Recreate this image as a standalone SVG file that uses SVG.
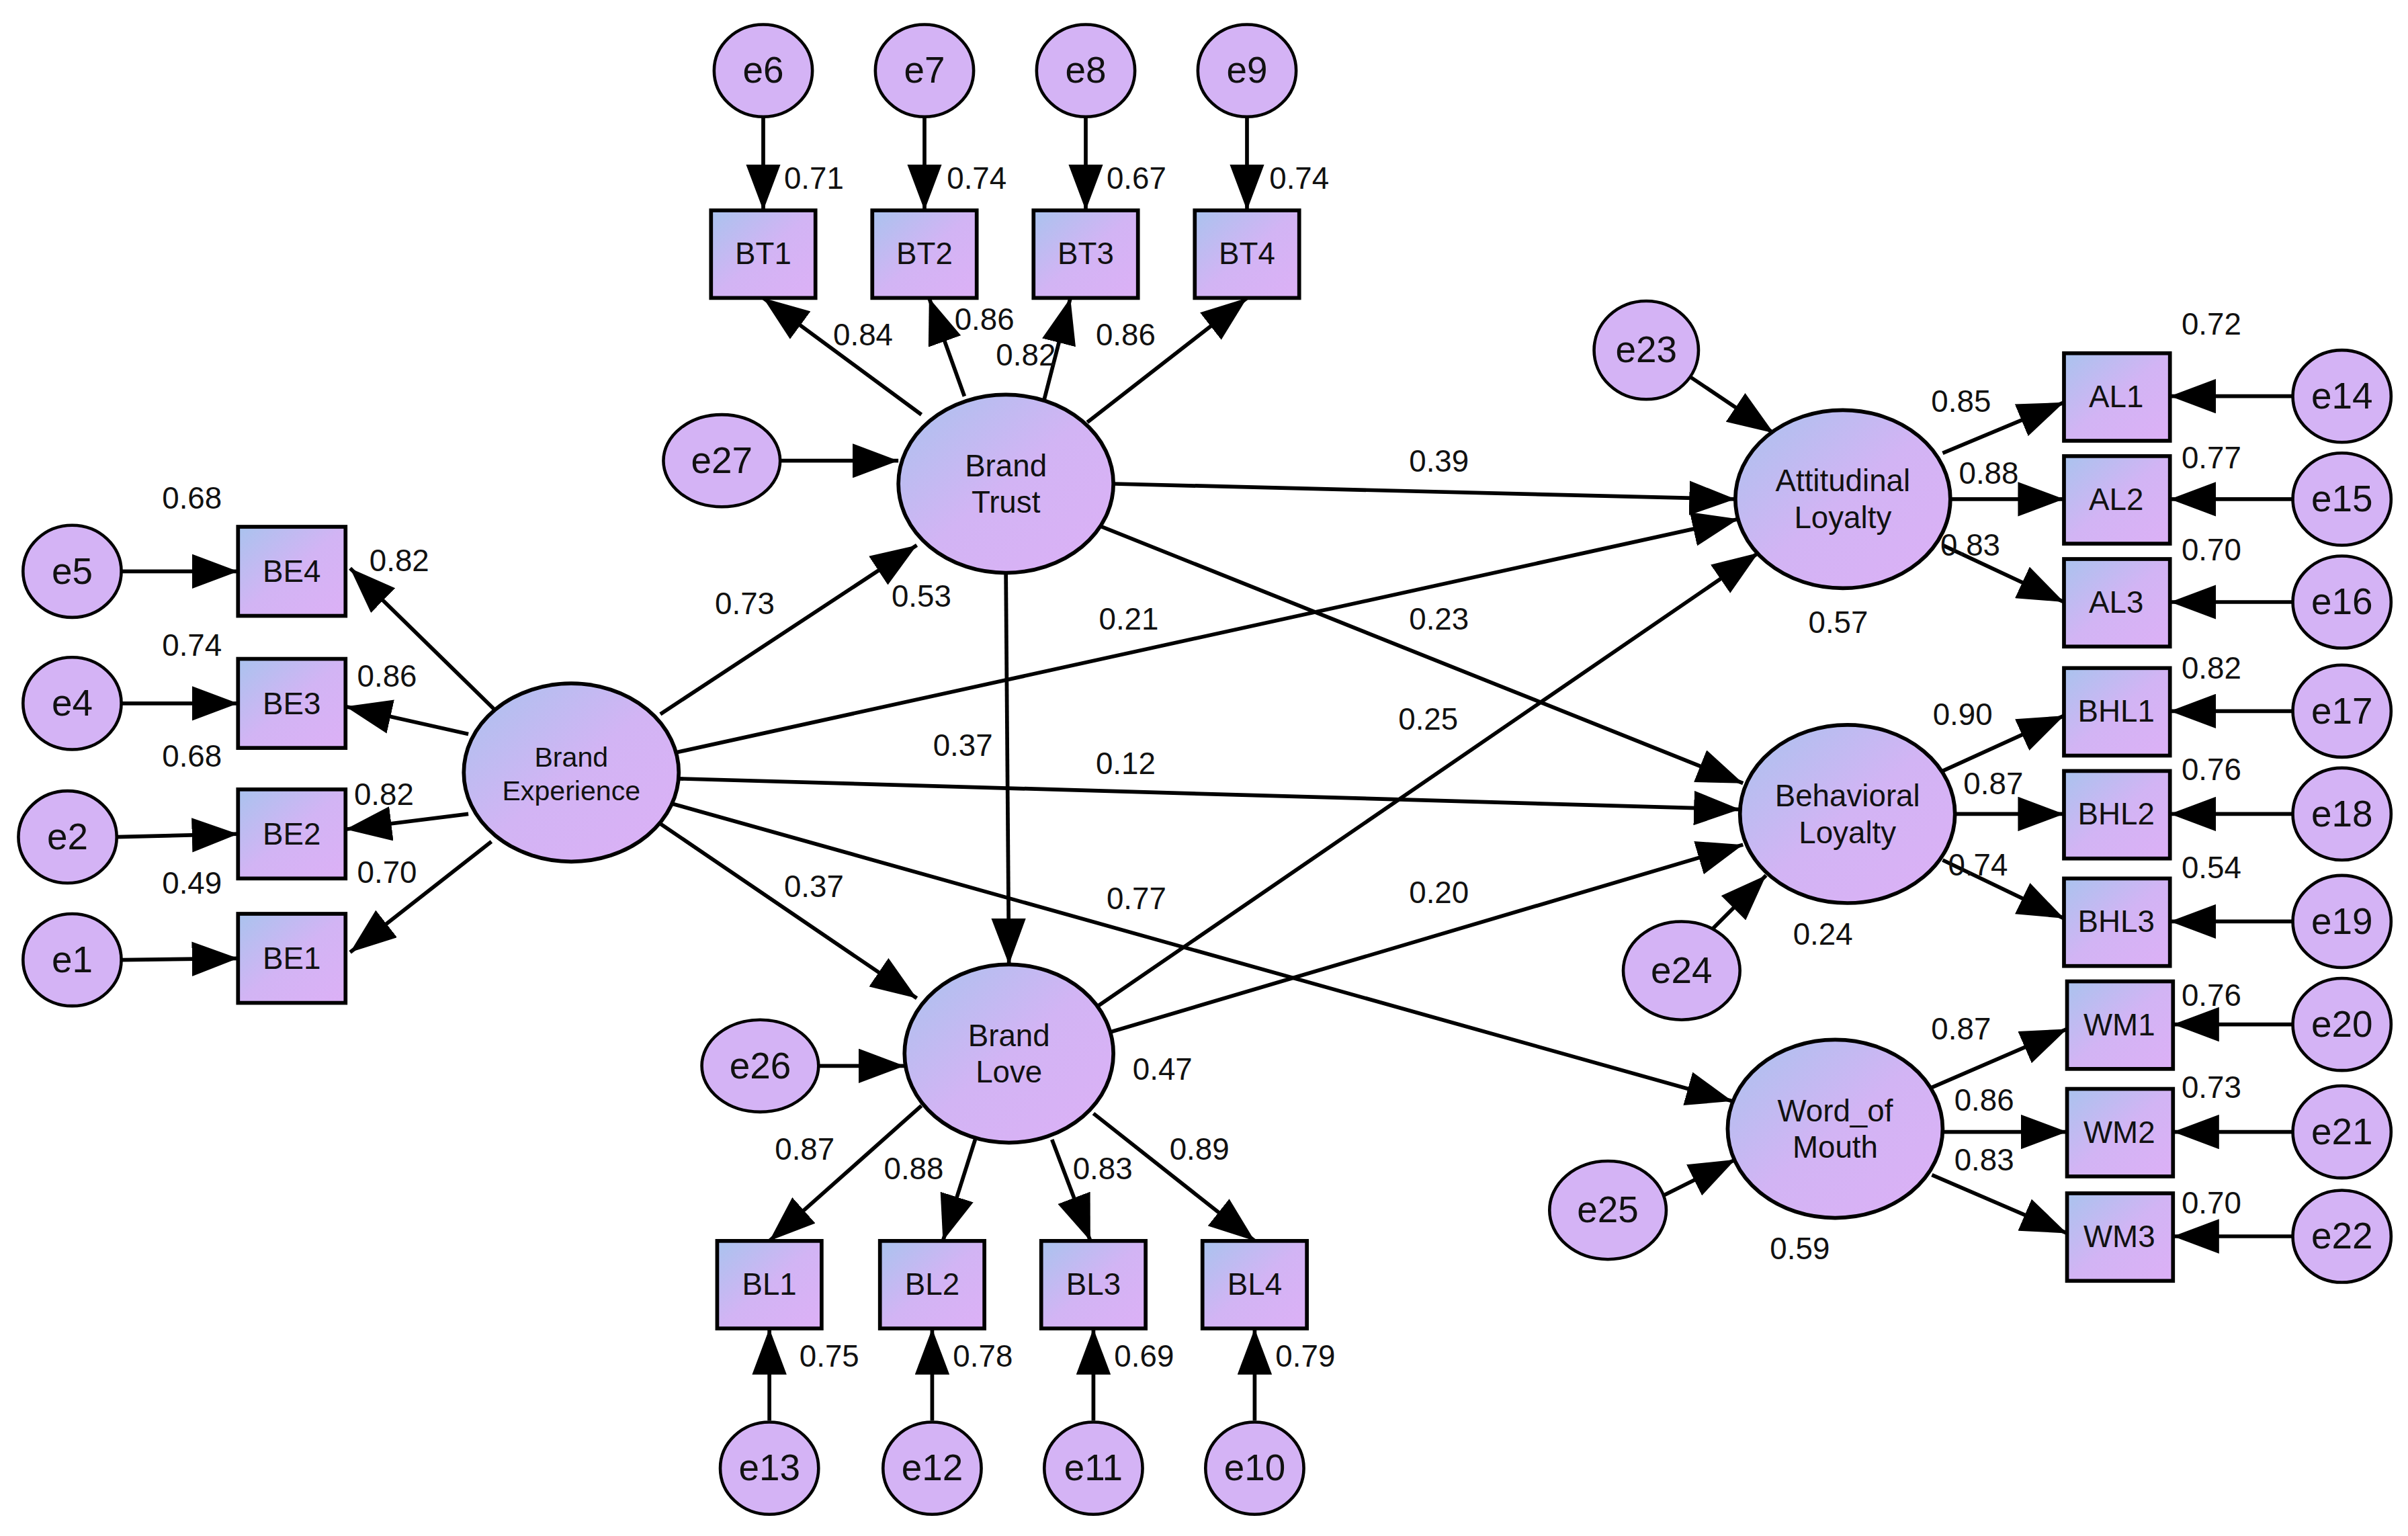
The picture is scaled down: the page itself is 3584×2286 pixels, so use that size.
<svg xmlns="http://www.w3.org/2000/svg" width="3584" height="2286" viewBox="0 0 3584 2286">
<defs>
<linearGradient id="g" x1="0" y1="0" x2="1" y2="1"><stop offset="0" stop-color="#a9c3ee"/><stop offset="0.5" stop-color="#d2b4f4"/><stop offset="1" stop-color="#dcb0f6"/></linearGradient>
<marker id="a" markerUnits="strokeWidth" markerWidth="12" markerHeight="9" refX="12" refY="4.5" orient="auto"><path d="M0,0 L12,4.5 L0,9 Z" fill="#000"/></marker>
<style>
.l{fill:url(#g);stroke:#000;stroke-width:2.5}
.e{fill:#d4b3f5;stroke:#000;stroke-width:2}
.b{fill:url(#g);stroke:#000;stroke-width:2.5}
.c line{stroke:#000;stroke-width:2.5;marker-end:url(#a)}
text{font-family:"Liberation Sans",Arial,sans-serif;text-anchor:middle;fill:#111}
.n{font-size:20px}.s{font-size:18px}.t{font-size:24px}.v{font-size:20px}
</style>
</defs>
<rect width="3584" height="2286" fill="#fff"/>
<g transform="scale(2.2857)">
<g class="c" id="connectors">
<line x1="497" y1="76" x2="497" y2="137"/><line x1="602" y1="76" x2="602" y2="137"/><line x1="707" y1="76" x2="707" y2="137"/><line x1="812" y1="76" x2="812" y2="137"/>
<line x1="600" y1="270" x2="497" y2="194"/><line x1="628" y1="258" x2="605" y2="194"/><line x1="680" y1="260" x2="697" y2="194"/><line x1="708" y1="275" x2="812" y2="194"/>
<line x1="508" y1="300" x2="585" y2="300"/>
<line x1="322" y1="462" x2="228" y2="370"/><line x1="305" y1="478" x2="225" y2="460"/><line x1="305" y1="530" x2="225" y2="540"/><line x1="320" y1="548" x2="228" y2="620"/>
<line x1="79" y1="372" x2="155" y2="372"/><line x1="79" y1="458" x2="155" y2="458"/><line x1="76" y1="545" x2="155" y2="543"/><line x1="79" y1="625" x2="155" y2="624"/>
<line x1="430" y1="465" x2="597" y2="355"/><line x1="440" y1="490" x2="1132" y2="338"/><line x1="442" y1="507" x2="1133" y2="527"/><line x1="428" y1="535" x2="597" y2="650"/><line x1="433" y1="522" x2="1128" y2="717"/>
<line x1="725" y1="315" x2="1130" y2="325"/><line x1="710" y1="340" x2="1135" y2="510"/><line x1="655" y1="373" x2="657" y2="628"/>
<line x1="715" y1="655" x2="1145" y2="360"/><line x1="723" y1="672" x2="1135" y2="550"/>
<line x1="533" y1="694" x2="589" y2="694"/>
<line x1="600" y1="720" x2="501" y2="808"/><line x1="635" y1="742" x2="614" y2="808"/><line x1="685" y1="742" x2="710" y2="808"/><line x1="712" y1="725" x2="817" y2="808"/>
<line x1="501" y1="925" x2="501" y2="865"/><line x1="607" y1="925" x2="607" y2="865"/><line x1="712" y1="925" x2="712" y2="865"/><line x1="817" y1="925" x2="817" y2="865"/>
<line x1="1100" y1="245" x2="1155" y2="282"/>
<line x1="1265" y1="295" x2="1344" y2="262"/><line x1="1270" y1="325" x2="1344" y2="325"/><line x1="1265" y1="355" x2="1344" y2="392"/>
<line x1="1493" y1="258" x2="1413" y2="258"/><line x1="1493" y1="325" x2="1413" y2="325"/><line x1="1493" y1="392" x2="1413" y2="392"/>
<line x1="1115" y1="605" x2="1150" y2="570"/>
<line x1="1265" y1="502" x2="1344" y2="466"/><line x1="1273" y1="530" x2="1344" y2="530"/><line x1="1265" y1="560" x2="1344" y2="598"/>
<line x1="1493" y1="463" x2="1413" y2="463"/><line x1="1493" y1="530" x2="1413" y2="530"/><line x1="1493" y1="600" x2="1413" y2="600"/>
<line x1="1080" y1="780" x2="1130" y2="755"/>
<line x1="1258" y1="708" x2="1346" y2="670"/><line x1="1265" y1="737" x2="1346" y2="737"/><line x1="1258" y1="765" x2="1346" y2="803"/>
<line x1="1493" y1="667" x2="1415" y2="667"/><line x1="1493" y1="737" x2="1415" y2="737"/><line x1="1493" y1="805" x2="1415" y2="805"/>
</g>
<g id="e6"><ellipse class="e" cx="497" cy="46" rx="32" ry="30"/><text class="t" x="497" y="54">e6</text></g>
<g id="e7"><ellipse class="e" cx="602" cy="46" rx="32" ry="30"/><text class="t" x="602" y="54">e7</text></g>
<g id="e8"><ellipse class="e" cx="707" cy="46" rx="32" ry="30"/><text class="t" x="707" y="54">e8</text></g>
<g id="e9"><ellipse class="e" cx="812" cy="46" rx="32" ry="30"/><text class="t" x="812" y="54">e9</text></g>
<g id="BT1"><rect class="b" x="463" y="137" width="68" height="57"/><text class="n" x="497" y="172">BT1</text></g>
<g id="BT2"><rect class="b" x="568" y="137" width="68" height="57"/><text class="n" x="602" y="172">BT2</text></g>
<g id="BT3"><rect class="b" x="673" y="137" width="68" height="57"/><text class="n" x="707" y="172">BT3</text></g>
<g id="BT4"><rect class="b" x="778" y="137" width="68" height="57"/><text class="n" x="812" y="172">BT4</text></g>
<g id="BrandTrust"><ellipse class="l" cx="655" cy="315" rx="70" ry="58"/><text class="n" x="655" y="310">Brand</text><text class="n" x="655" y="334">Trust</text></g>
<g id="e27"><ellipse class="e" cx="470" cy="300" rx="38" ry="30"/><text class="t" x="470" y="308">e27</text></g>
<g id="BrandExperience"><ellipse class="l" cx="372" cy="503" rx="70" ry="58"/><text class="s" x="372" y="499">Brand</text><text class="s" x="372" y="521">Experience</text></g>
<g id="BE4"><rect class="b" x="155" y="343" width="70" height="58"/><text class="n" x="190" y="379">BE4</text></g>
<g id="BE3"><rect class="b" x="155" y="429" width="70" height="58"/><text class="n" x="190" y="465">BE3</text></g>
<g id="BE2"><rect class="b" x="155" y="514" width="70" height="58"/><text class="n" x="190" y="550">BE2</text></g>
<g id="BE1"><rect class="b" x="155" y="595" width="70" height="58"/><text class="n" x="190" y="631">BE1</text></g>
<g id="e5"><ellipse class="e" cx="47" cy="372" rx="32" ry="30"/><text class="t" x="47" y="380">e5</text></g>
<g id="e4"><ellipse class="e" cx="47" cy="458" rx="32" ry="30"/><text class="t" x="47" y="466">e4</text></g>
<g id="e2"><ellipse class="e" cx="44" cy="545" rx="32" ry="30"/><text class="t" x="44" y="553">e2</text></g>
<g id="e1"><ellipse class="e" cx="47" cy="625" rx="32" ry="30"/><text class="t" x="47" y="633">e1</text></g>
<g id="BrandLove"><ellipse class="l" cx="657" cy="686" rx="68" ry="58"/><text class="n" x="657" y="681">Brand</text><text class="n" x="657" y="705">Love</text></g>
<g id="e26"><ellipse class="e" cx="495" cy="694" rx="38" ry="30"/><text class="t" x="495" y="702">e26</text></g>
<g id="BL1"><rect class="b" x="467" y="808" width="68" height="57"/><text class="n" x="501" y="843">BL1</text></g>
<g id="BL2"><rect class="b" x="573" y="808" width="68" height="57"/><text class="n" x="607" y="843">BL2</text></g>
<g id="BL3"><rect class="b" x="678" y="808" width="68" height="57"/><text class="n" x="712" y="843">BL3</text></g>
<g id="BL4"><rect class="b" x="783" y="808" width="68" height="57"/><text class="n" x="817" y="843">BL4</text></g>
<g id="e13"><ellipse class="e" cx="501" cy="956" rx="32" ry="30"/><text class="t" x="501" y="964">e13</text></g>
<g id="e12"><ellipse class="e" cx="607" cy="956" rx="32" ry="30"/><text class="t" x="607" y="964">e12</text></g>
<g id="e11"><ellipse class="e" cx="712" cy="956" rx="32" ry="30"/><text class="t" x="712" y="964">e11</text></g>
<g id="e10"><ellipse class="e" cx="817" cy="956" rx="32" ry="30"/><text class="t" x="817" y="964">e10</text></g>
<g id="AttitudinalLoyalty"><ellipse class="l" cx="1200" cy="325" rx="70" ry="58"/><text class="n" x="1200" y="320">Attitudinal</text><text class="n" x="1200" y="344">Loyalty</text></g>
<g id="e23"><ellipse class="e" cx="1072" cy="228" rx="34" ry="32"/><text class="t" x="1072" y="236">e23</text></g>
<g id="AL1"><rect class="b" x="1344" y="230" width="69" height="57"/><text class="n" x="1378" y="265">AL1</text></g>
<g id="AL2"><rect class="b" x="1344" y="297" width="69" height="57"/><text class="n" x="1378" y="332">AL2</text></g>
<g id="AL3"><rect class="b" x="1344" y="364" width="69" height="57"/><text class="n" x="1378" y="399">AL3</text></g>
<g id="e14"><ellipse class="e" cx="1525" cy="258" rx="32" ry="30"/><text class="t" x="1525" y="266">e14</text></g>
<g id="e15"><ellipse class="e" cx="1525" cy="325" rx="32" ry="30"/><text class="t" x="1525" y="333">e15</text></g>
<g id="e16"><ellipse class="e" cx="1525" cy="392" rx="32" ry="30"/><text class="t" x="1525" y="400">e16</text></g>
<g id="BehavioralLoyalty"><ellipse class="l" cx="1203" cy="530" rx="70" ry="58"/><text class="n" x="1203" y="525">Behavioral</text><text class="n" x="1203" y="549">Loyalty</text></g>
<g id="e24"><ellipse class="e" cx="1095" cy="632" rx="38" ry="32"/><text class="t" x="1095" y="640">e24</text></g>
<g id="BHL1"><rect class="b" x="1344" y="435" width="69" height="57"/><text class="n" x="1378" y="470">BHL1</text></g>
<g id="BHL2"><rect class="b" x="1344" y="502" width="69" height="57"/><text class="n" x="1378" y="537">BHL2</text></g>
<g id="BHL3"><rect class="b" x="1344" y="572" width="69" height="57"/><text class="n" x="1378" y="607">BHL3</text></g>
<g id="e17"><ellipse class="e" cx="1525" cy="463" rx="32" ry="30"/><text class="t" x="1525" y="471">e17</text></g>
<g id="e18"><ellipse class="e" cx="1525" cy="530" rx="32" ry="30"/><text class="t" x="1525" y="538">e18</text></g>
<g id="e19"><ellipse class="e" cx="1525" cy="600" rx="32" ry="30"/><text class="t" x="1525" y="608">e19</text></g>
<g id="WordOfMouth"><ellipse class="l" cx="1195" cy="735" rx="70" ry="58"/><text class="n" x="1195" y="730">Word_of</text><text class="n" x="1195" y="754">Mouth</text></g>
<g id="e25"><ellipse class="e" cx="1047" cy="788" rx="38" ry="32"/><text class="t" x="1047" y="796">e25</text></g>
<g id="WM1"><rect class="b" x="1346" y="639" width="69" height="57"/><text class="n" x="1380" y="674">WM1</text></g>
<g id="WM2"><rect class="b" x="1346" y="709" width="69" height="57"/><text class="n" x="1380" y="744">WM2</text></g>
<g id="WM3"><rect class="b" x="1346" y="777" width="69" height="57"/><text class="n" x="1380" y="812">WM3</text></g>
<g id="e20"><ellipse class="e" cx="1525" cy="667" rx="32" ry="30"/><text class="t" x="1525" y="675">e20</text></g>
<g id="e21"><ellipse class="e" cx="1525" cy="737" rx="32" ry="30"/><text class="t" x="1525" y="745">e21</text></g>
<g id="e22"><ellipse class="e" cx="1525" cy="805" rx="32" ry="30"/><text class="t" x="1525" y="813">e22</text></g>
<g id="labels" class="v">
<text x="530" y="123">0.71</text><text x="636" y="123">0.74</text><text x="740" y="123">0.67</text><text x="846" y="123">0.74</text>
<text x="562" y="225">0.84</text><text x="641" y="215">0.86</text><text x="668" y="238">0.82</text><text x="733" y="225">0.86</text>
<text x="125" y="331">0.68</text><text x="260" y="372">0.82</text><text x="125" y="427">0.74</text><text x="252" y="447">0.86</text>
<text x="125" y="499">0.68</text><text x="250" y="524">0.82</text><text x="125" y="582">0.49</text><text x="252" y="575">0.70</text>
<text x="485" y="400">0.73</text><text x="600" y="395">0.53</text><text x="735" y="410">0.21</text><text x="937" y="307">0.39</text>
<text x="937" y="410">0.23</text><text x="627" y="492">0.37</text><text x="733" y="504">0.12</text><text x="930" y="475">0.25</text>
<text x="530" y="584">0.37</text><text x="740" y="592">0.77</text><text x="937" y="588">0.20</text><text x="757" y="703">0.47</text>
<text x="524" y="755">0.87</text><text x="595" y="768">0.88</text><text x="718" y="768">0.83</text><text x="781" y="755">0.89</text>
<text x="540" y="890">0.75</text><text x="640" y="890">0.78</text><text x="745" y="890">0.69</text><text x="850" y="890">0.79</text>
<text x="1440" y="218">0.72</text><text x="1277" y="268">0.85</text><text x="1295" y="315">0.88</text><text x="1440" y="305">0.77</text>
<text x="1283" y="362">0.83</text><text x="1440" y="365">0.70</text><text x="1197" y="412">0.57</text>
<text x="1440" y="442">0.82</text><text x="1278" y="472">0.90</text><text x="1298" y="517">0.87</text><text x="1440" y="508">0.76</text>
<text x="1288" y="570">0.74</text><text x="1440" y="572">0.54</text><text x="1187" y="615">0.24</text>
<text x="1440" y="655">0.76</text><text x="1277" y="677">0.87</text><text x="1292" y="723">0.86</text><text x="1440" y="715">0.73</text>
<text x="1292" y="762">0.83</text><text x="1440" y="790">0.70</text><text x="1172" y="820">0.59</text>
</g>
</g>
</svg>
